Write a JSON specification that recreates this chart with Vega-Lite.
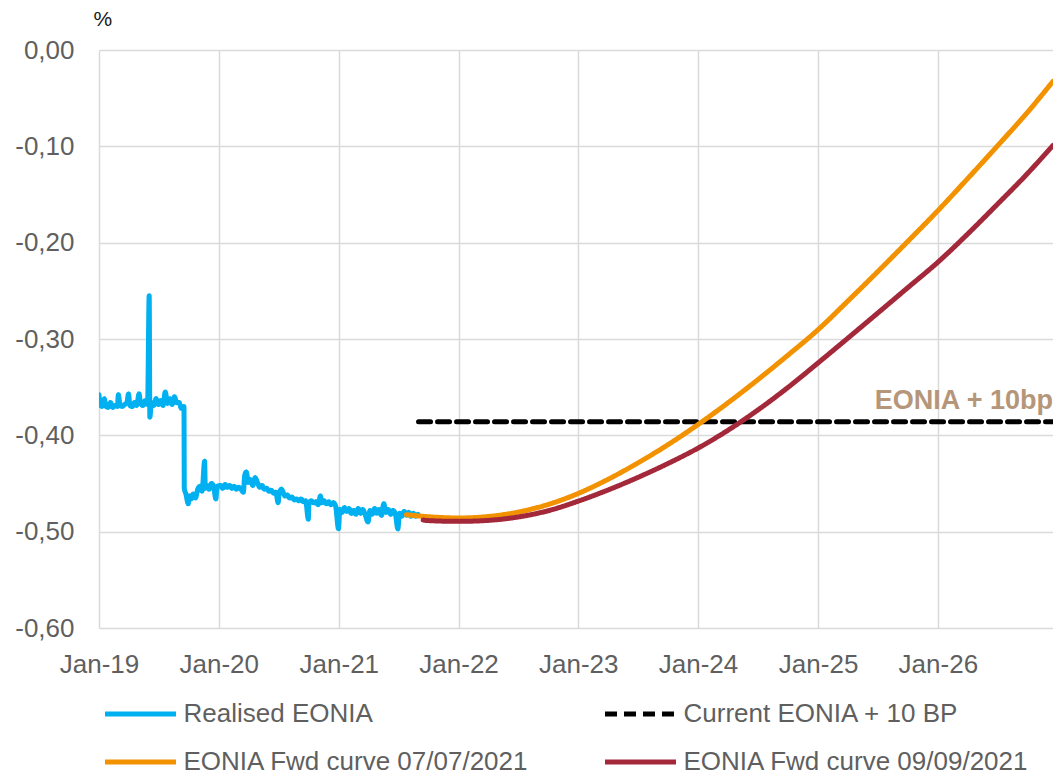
{
  "$schema": "https://vega.github.io/schema/vega-lite/v6.json",
  "width": 954,
  "height": 578,
  "autosize": {"type": "none"},
  "padding": {"left": 99, "top": 50, "right": 0, "bottom": 148},
  "background": "white",
  "config": {
    "view": {"stroke": null},
    "font": "Liberation Sans",
    "axis": {"gridColor": "#dadada", "gridWidth": 1.5, "domain": false, "ticks": false, "tickSize": 0, "labelFont": "Liberation Sans", "labelFontSize": 26, "labelColor": "#5f5f5f"}
  },
  "datasets": {
    "lines": [
      {"series": "Realised EONIA", "date": "2019-01-01", "value": -0.358},
      {"series": "Realised EONIA", "date": "2019-01-04", "value": -0.368},
      {"series": "Realised EONIA", "date": "2019-01-10", "value": -0.370},
      {"series": "Realised EONIA", "date": "2019-01-17", "value": -0.362},
      {"series": "Realised EONIA", "date": "2019-01-22", "value": -0.370},
      {"series": "Realised EONIA", "date": "2019-01-29", "value": -0.371},
      {"series": "Realised EONIA", "date": "2019-02-05", "value": -0.366},
      {"series": "Realised EONIA", "date": "2019-02-12", "value": -0.371},
      {"series": "Realised EONIA", "date": "2019-02-19", "value": -0.369},
      {"series": "Realised EONIA", "date": "2019-02-26", "value": -0.370},
      {"series": "Realised EONIA", "date": "2019-03-01", "value": -0.358},
      {"series": "Realised EONIA", "date": "2019-03-06", "value": -0.368},
      {"series": "Realised EONIA", "date": "2019-03-13", "value": -0.370},
      {"series": "Realised EONIA", "date": "2019-03-20", "value": -0.368},
      {"series": "Realised EONIA", "date": "2019-03-27", "value": -0.366},
      {"series": "Realised EONIA", "date": "2019-04-01", "value": -0.357},
      {"series": "Realised EONIA", "date": "2019-04-05", "value": -0.369},
      {"series": "Realised EONIA", "date": "2019-04-12", "value": -0.370},
      {"series": "Realised EONIA", "date": "2019-04-19", "value": -0.366},
      {"series": "Realised EONIA", "date": "2019-04-26", "value": -0.369},
      {"series": "Realised EONIA", "date": "2019-05-03", "value": -0.357},
      {"series": "Realised EONIA", "date": "2019-05-08", "value": -0.367},
      {"series": "Realised EONIA", "date": "2019-05-15", "value": -0.369},
      {"series": "Realised EONIA", "date": "2019-05-22", "value": -0.364},
      {"series": "Realised EONIA", "date": "2019-05-29", "value": -0.368},
      {"series": "Realised EONIA", "date": "2019-06-03", "value": -0.255},
      {"series": "Realised EONIA", "date": "2019-06-05", "value": -0.381},
      {"series": "Realised EONIA", "date": "2019-06-10", "value": -0.366},
      {"series": "Realised EONIA", "date": "2019-06-17", "value": -0.369},
      {"series": "Realised EONIA", "date": "2019-06-24", "value": -0.362},
      {"series": "Realised EONIA", "date": "2019-07-01", "value": -0.368},
      {"series": "Realised EONIA", "date": "2019-07-08", "value": -0.364},
      {"series": "Realised EONIA", "date": "2019-07-15", "value": -0.369},
      {"series": "Realised EONIA", "date": "2019-07-22", "value": -0.355},
      {"series": "Realised EONIA", "date": "2019-07-29", "value": -0.367},
      {"series": "Realised EONIA", "date": "2019-08-05", "value": -0.362},
      {"series": "Realised EONIA", "date": "2019-08-12", "value": -0.368},
      {"series": "Realised EONIA", "date": "2019-08-19", "value": -0.360},
      {"series": "Realised EONIA", "date": "2019-08-26", "value": -0.366},
      {"series": "Realised EONIA", "date": "2019-09-02", "value": -0.366},
      {"series": "Realised EONIA", "date": "2019-09-09", "value": -0.372},
      {"series": "Realised EONIA", "date": "2019-09-17", "value": -0.370},
      {"series": "Realised EONIA", "date": "2019-09-18", "value": -0.455},
      {"series": "Realised EONIA", "date": "2019-09-23", "value": -0.461},
      {"series": "Realised EONIA", "date": "2019-09-30", "value": -0.471},
      {"series": "Realised EONIA", "date": "2019-10-03", "value": -0.463},
      {"series": "Realised EONIA", "date": "2019-10-09", "value": -0.466},
      {"series": "Realised EONIA", "date": "2019-10-15", "value": -0.461},
      {"series": "Realised EONIA", "date": "2019-10-22", "value": -0.465},
      {"series": "Realised EONIA", "date": "2019-10-29", "value": -0.456},
      {"series": "Realised EONIA", "date": "2019-11-04", "value": -0.453},
      {"series": "Realised EONIA", "date": "2019-11-11", "value": -0.458},
      {"series": "Realised EONIA", "date": "2019-11-19", "value": -0.427},
      {"series": "Realised EONIA", "date": "2019-11-21", "value": -0.455},
      {"series": "Realised EONIA", "date": "2019-11-26", "value": -0.452},
      {"series": "Realised EONIA", "date": "2019-12-03", "value": -0.456},
      {"series": "Realised EONIA", "date": "2019-12-10", "value": -0.450},
      {"series": "Realised EONIA", "date": "2019-12-17", "value": -0.454},
      {"series": "Realised EONIA", "date": "2019-12-23", "value": -0.466},
      {"series": "Realised EONIA", "date": "2019-12-27", "value": -0.453},
      {"series": "Realised EONIA", "date": "2020-01-06", "value": -0.452},
      {"series": "Realised EONIA", "date": "2020-01-13", "value": -0.455},
      {"series": "Realised EONIA", "date": "2020-01-20", "value": -0.451},
      {"series": "Realised EONIA", "date": "2020-01-27", "value": -0.454},
      {"series": "Realised EONIA", "date": "2020-02-03", "value": -0.452},
      {"series": "Realised EONIA", "date": "2020-02-10", "value": -0.455},
      {"series": "Realised EONIA", "date": "2020-02-17", "value": -0.453},
      {"series": "Realised EONIA", "date": "2020-02-24", "value": -0.456},
      {"series": "Realised EONIA", "date": "2020-03-02", "value": -0.454},
      {"series": "Realised EONIA", "date": "2020-03-09", "value": -0.456},
      {"series": "Realised EONIA", "date": "2020-03-16", "value": -0.459},
      {"series": "Realised EONIA", "date": "2020-03-20", "value": -0.442},
      {"series": "Realised EONIA", "date": "2020-03-25", "value": -0.438},
      {"series": "Realised EONIA", "date": "2020-03-31", "value": -0.449},
      {"series": "Realised EONIA", "date": "2020-04-06", "value": -0.446},
      {"series": "Realised EONIA", "date": "2020-04-14", "value": -0.452},
      {"series": "Realised EONIA", "date": "2020-04-21", "value": -0.444},
      {"series": "Realised EONIA", "date": "2020-04-28", "value": -0.449},
      {"series": "Realised EONIA", "date": "2020-05-05", "value": -0.454},
      {"series": "Realised EONIA", "date": "2020-05-12", "value": -0.452},
      {"series": "Realised EONIA", "date": "2020-05-19", "value": -0.456},
      {"series": "Realised EONIA", "date": "2020-05-26", "value": -0.455},
      {"series": "Realised EONIA", "date": "2020-06-02", "value": -0.458},
      {"series": "Realised EONIA", "date": "2020-06-09", "value": -0.457},
      {"series": "Realised EONIA", "date": "2020-06-16", "value": -0.460},
      {"series": "Realised EONIA", "date": "2020-06-23", "value": -0.459},
      {"series": "Realised EONIA", "date": "2020-06-30", "value": -0.470},
      {"series": "Realised EONIA", "date": "2020-07-03", "value": -0.461},
      {"series": "Realised EONIA", "date": "2020-07-10", "value": -0.456},
      {"series": "Realised EONIA", "date": "2020-07-14", "value": -0.458},
      {"series": "Realised EONIA", "date": "2020-07-21", "value": -0.463},
      {"series": "Realised EONIA", "date": "2020-07-28", "value": -0.462},
      {"series": "Realised EONIA", "date": "2020-08-04", "value": -0.465},
      {"series": "Realised EONIA", "date": "2020-08-11", "value": -0.464},
      {"series": "Realised EONIA", "date": "2020-08-18", "value": -0.467},
      {"series": "Realised EONIA", "date": "2020-08-25", "value": -0.466},
      {"series": "Realised EONIA", "date": "2020-09-01", "value": -0.468},
      {"series": "Realised EONIA", "date": "2020-09-08", "value": -0.466},
      {"series": "Realised EONIA", "date": "2020-09-15", "value": -0.469},
      {"series": "Realised EONIA", "date": "2020-09-22", "value": -0.468},
      {"series": "Realised EONIA", "date": "2020-09-30", "value": -0.487},
      {"series": "Realised EONIA", "date": "2020-10-02", "value": -0.471},
      {"series": "Realised EONIA", "date": "2020-10-09", "value": -0.468},
      {"series": "Realised EONIA", "date": "2020-10-16", "value": -0.470},
      {"series": "Realised EONIA", "date": "2020-10-23", "value": -0.469},
      {"series": "Realised EONIA", "date": "2020-10-30", "value": -0.472},
      {"series": "Realised EONIA", "date": "2020-11-06", "value": -0.463},
      {"series": "Realised EONIA", "date": "2020-11-10", "value": -0.470},
      {"series": "Realised EONIA", "date": "2020-11-17", "value": -0.468},
      {"series": "Realised EONIA", "date": "2020-11-24", "value": -0.471},
      {"series": "Realised EONIA", "date": "2020-12-01", "value": -0.469},
      {"series": "Realised EONIA", "date": "2020-12-08", "value": -0.472},
      {"series": "Realised EONIA", "date": "2020-12-15", "value": -0.470},
      {"series": "Realised EONIA", "date": "2020-12-22", "value": -0.473},
      {"series": "Realised EONIA", "date": "2020-12-31", "value": -0.497},
      {"series": "Realised EONIA", "date": "2021-01-04", "value": -0.477},
      {"series": "Realised EONIA", "date": "2021-01-11", "value": -0.480},
      {"series": "Realised EONIA", "date": "2021-01-18", "value": -0.475},
      {"series": "Realised EONIA", "date": "2021-01-25", "value": -0.479},
      {"series": "Realised EONIA", "date": "2021-02-01", "value": -0.476},
      {"series": "Realised EONIA", "date": "2021-02-08", "value": -0.481},
      {"series": "Realised EONIA", "date": "2021-02-15", "value": -0.478},
      {"series": "Realised EONIA", "date": "2021-02-22", "value": -0.482},
      {"series": "Realised EONIA", "date": "2021-03-01", "value": -0.476},
      {"series": "Realised EONIA", "date": "2021-03-08", "value": -0.481},
      {"series": "Realised EONIA", "date": "2021-03-15", "value": -0.477},
      {"series": "Realised EONIA", "date": "2021-03-22", "value": -0.482},
      {"series": "Realised EONIA", "date": "2021-03-31", "value": -0.490},
      {"series": "Realised EONIA", "date": "2021-04-06", "value": -0.478},
      {"series": "Realised EONIA", "date": "2021-04-13", "value": -0.482},
      {"series": "Realised EONIA", "date": "2021-04-20", "value": -0.476},
      {"series": "Realised EONIA", "date": "2021-04-27", "value": -0.481},
      {"series": "Realised EONIA", "date": "2021-05-04", "value": -0.477},
      {"series": "Realised EONIA", "date": "2021-05-11", "value": -0.483},
      {"series": "Realised EONIA", "date": "2021-05-18", "value": -0.471},
      {"series": "Realised EONIA", "date": "2021-05-25", "value": -0.480},
      {"series": "Realised EONIA", "date": "2021-06-01", "value": -0.477},
      {"series": "Realised EONIA", "date": "2021-06-08", "value": -0.482},
      {"series": "Realised EONIA", "date": "2021-06-15", "value": -0.478},
      {"series": "Realised EONIA", "date": "2021-06-22", "value": -0.481},
      {"series": "Realised EONIA", "date": "2021-06-30", "value": -0.497},
      {"series": "Realised EONIA", "date": "2021-07-05", "value": -0.481},
      {"series": "Realised EONIA", "date": "2021-07-12", "value": -0.484},
      {"series": "Realised EONIA", "date": "2021-07-19", "value": -0.479},
      {"series": "Realised EONIA", "date": "2021-07-26", "value": -0.483},
      {"series": "Realised EONIA", "date": "2021-08-02", "value": -0.480},
      {"series": "Realised EONIA", "date": "2021-08-09", "value": -0.484},
      {"series": "Realised EONIA", "date": "2021-08-16", "value": -0.481},
      {"series": "Realised EONIA", "date": "2021-08-23", "value": -0.484},
      {"series": "Realised EONIA", "date": "2021-08-30", "value": -0.482},
      {"series": "Current EONIA + 10 BP", "date": "2021-09-01", "value": -0.386},
      {"series": "Current EONIA + 10 BP", "date": "2026-12-18", "value": -0.386},
      {"series": "EONIA Fwd curve 07/07/2021", "date": "2021-07-26", "value": -0.4824},
      {"series": "EONIA Fwd curve 07/07/2021", "date": "2021-10-01", "value": -0.4845},
      {"series": "EONIA Fwd curve 07/07/2021", "date": "2022-01-01", "value": -0.4858},
      {"series": "EONIA Fwd curve 07/07/2021", "date": "2022-04-01", "value": -0.4843},
      {"series": "EONIA Fwd curve 07/07/2021", "date": "2022-07-01", "value": -0.4798},
      {"series": "EONIA Fwd curve 07/07/2021", "date": "2022-10-01", "value": -0.4718},
      {"series": "EONIA Fwd curve 07/07/2021", "date": "2023-01-01", "value": -0.4603},
      {"series": "EONIA Fwd curve 07/07/2021", "date": "2023-04-01", "value": -0.4458},
      {"series": "EONIA Fwd curve 07/07/2021", "date": "2023-07-01", "value": -0.4288},
      {"series": "EONIA Fwd curve 07/07/2021", "date": "2023-10-01", "value": -0.4098},
      {"series": "EONIA Fwd curve 07/07/2021", "date": "2024-01-01", "value": -0.3888},
      {"series": "EONIA Fwd curve 07/07/2021", "date": "2024-04-01", "value": -0.3663},
      {"series": "EONIA Fwd curve 07/07/2021", "date": "2024-07-01", "value": -0.3423},
      {"series": "EONIA Fwd curve 07/07/2021", "date": "2024-10-01", "value": -0.3168},
      {"series": "EONIA Fwd curve 07/07/2021", "date": "2025-01-01", "value": -0.2903},
      {"series": "EONIA Fwd curve 07/07/2021", "date": "2025-04-01", "value": -0.2608},
      {"series": "EONIA Fwd curve 07/07/2021", "date": "2025-07-01", "value": -0.2303},
      {"series": "EONIA Fwd curve 07/07/2021", "date": "2025-10-01", "value": -0.1988},
      {"series": "EONIA Fwd curve 07/07/2021", "date": "2026-01-01", "value": -0.1668},
      {"series": "EONIA Fwd curve 07/07/2021", "date": "2026-04-01", "value": -0.1338},
      {"series": "EONIA Fwd curve 07/07/2021", "date": "2026-07-01", "value": -0.0998},
      {"series": "EONIA Fwd curve 07/07/2021", "date": "2026-10-01", "value": -0.0648},
      {"series": "EONIA Fwd curve 07/07/2021", "date": "2026-12-18", "value": -0.0325},
      {"series": "EONIA Fwd curve 09/09/2021", "date": "2021-09-15", "value": -0.4879},
      {"series": "EONIA Fwd curve 09/09/2021", "date": "2021-10-01", "value": -0.4885},
      {"series": "EONIA Fwd curve 09/09/2021", "date": "2022-01-01", "value": -0.4893},
      {"series": "EONIA Fwd curve 09/09/2021", "date": "2022-04-01", "value": -0.4883},
      {"series": "EONIA Fwd curve 09/09/2021", "date": "2022-07-01", "value": -0.4848},
      {"series": "EONIA Fwd curve 09/09/2021", "date": "2022-10-01", "value": -0.4783},
      {"series": "EONIA Fwd curve 09/09/2021", "date": "2023-01-01", "value": -0.4683},
      {"series": "EONIA Fwd curve 09/09/2021", "date": "2023-04-01", "value": -0.4568},
      {"series": "EONIA Fwd curve 09/09/2021", "date": "2023-07-01", "value": -0.4438},
      {"series": "EONIA Fwd curve 09/09/2021", "date": "2023-10-01", "value": -0.4293},
      {"series": "EONIA Fwd curve 09/09/2021", "date": "2024-01-01", "value": -0.4133},
      {"series": "EONIA Fwd curve 09/09/2021", "date": "2024-04-01", "value": -0.3948},
      {"series": "EONIA Fwd curve 09/09/2021", "date": "2024-07-01", "value": -0.3738},
      {"series": "EONIA Fwd curve 09/09/2021", "date": "2024-10-01", "value": -0.3503},
      {"series": "EONIA Fwd curve 09/09/2021", "date": "2025-01-01", "value": -0.3248},
      {"series": "EONIA Fwd curve 09/09/2021", "date": "2025-04-01", "value": -0.2993},
      {"series": "EONIA Fwd curve 09/09/2021", "date": "2025-07-01", "value": -0.2733},
      {"series": "EONIA Fwd curve 09/09/2021", "date": "2025-10-01", "value": -0.2468},
      {"series": "EONIA Fwd curve 09/09/2021", "date": "2026-01-01", "value": -0.2203},
      {"series": "EONIA Fwd curve 09/09/2021", "date": "2026-04-01", "value": -0.1913},
      {"series": "EONIA Fwd curve 09/09/2021", "date": "2026-07-01", "value": -0.1603},
      {"series": "EONIA Fwd curve 09/09/2021", "date": "2026-10-01", "value": -0.1283},
      {"series": "EONIA Fwd curve 09/09/2021", "date": "2026-12-18", "value": -0.0990}
    ],
    "notes": [
      {"date": "2026-12-18", "value": -0.364, "label": "EONIA + 10bp"}
    ]
  },
  "layer": [
    {
      "data": {"name": "lines", "format": {"parse": {"date": "utc:'%Y-%m-%d'"}}},
      "mark": {"type": "line", "strokeWidth": 5, "strokeCap": "round", "interpolate": "monotone", "clip": true},
      "encoding": {
        "x": {
          "field": "date", "type": "temporal",
          "scale": {"type": "utc", "domain": [{"year": 2019, "month": 1, "date": 1, "utc": true}, {"year": 2026, "month": 12, "date": 18, "utc": true}], "nice": false},
          "axis": {
            "title": null, "grid": true, "labelPadding": 23, "labelAlign": "center", "labelFlush": false,
            "labelExpr": "utcFormat(datum.value, '%b-%y')",
            "values": [
              {"year": 2019, "month": 1, "date": 1, "utc": true},
              {"year": 2020, "month": 1, "date": 1, "utc": true},
              {"year": 2021, "month": 1, "date": 1, "utc": true},
              {"year": 2022, "month": 1, "date": 1, "utc": true},
              {"year": 2023, "month": 1, "date": 1, "utc": true},
              {"year": 2024, "month": 1, "date": 1, "utc": true},
              {"year": 2025, "month": 1, "date": 1, "utc": true},
              {"year": 2026, "month": 1, "date": 1, "utc": true}
            ]
          }
        },
        "y": {
          "field": "value", "type": "quantitative",
          "scale": {"domain": [-0.6, 0], "nice": false, "zero": false},
          "axis": {
            "title": "%", "titleAngle": 0, "titleAlign": "left", "titleBaseline": "alphabetic", "titleX": -6, "titleY": -25,
            "titleFontSize": 21, "titleFontWeight": "normal", "titleColor": "#1a1a1a", "titleFont": "Liberation Sans",
            "values": [-0.6, -0.5, -0.4, -0.3, -0.2, -0.1, 0],
            "labelExpr": "(datum.value < -0.0001 ? '-' : '') + replace(format(abs(datum.value), '.2f'), '.', ',')",
            "labelPadding": 25, "grid": true
          }
        },
        "color": {
          "field": "series", "type": "nominal",
          "scale": {
            "domain": ["Realised EONIA", "Current EONIA + 10 BP", "EONIA Fwd curve 07/07/2021", "EONIA Fwd curve 09/09/2021"],
            "range": ["#00b0f0", "#000000", "#f39200", "#a3283a"]
          },
          "legend": {
            "title": null, "orient": "none", "legendX": 3.5, "legendY": 651, "direction": "horizontal", "columns": 2,
            "columnPadding": 73, "rowPadding": 22, "clipHeight": 26,
            "symbolType": "stroke", "symbolSize": 5041, "symbolStrokeWidth": 5, "labelOffset": 5,
            "labelFont": "Liberation Sans", "labelFontSize": 26, "labelColor": "#5f5f5f", "labelLimit": 0
          }
        },
        "strokeDash": {
          "field": "series", "type": "nominal",
          "scale": {
            "domain": ["Realised EONIA", "Current EONIA + 10 BP", "EONIA Fwd curve 07/07/2021", "EONIA Fwd curve 09/09/2021"],
            "range": [[1, 0], [12, 7], [1, 0], [1, 0]]
          },
          "legend": {
            "title": null, "orient": "none", "legendX": 3.5, "legendY": 651, "direction": "horizontal", "columns": 2,
            "columnPadding": 73, "rowPadding": 22, "clipHeight": 26,
            "symbolType": "stroke", "symbolSize": 5041, "symbolStrokeWidth": 5, "labelOffset": 5,
            "labelFont": "Liberation Sans", "labelFontSize": 26, "labelColor": "#5f5f5f", "labelLimit": 0
          }
        }
      }
    },
    {
      "data": {"name": "notes", "format": {"parse": {"date": "utc:'%Y-%m-%d'"}}},
      "mark": {"type": "text", "align": "right", "baseline": "middle", "dx": 0, "font": "Liberation Sans", "fontWeight": "bold", "fontSize": 27, "color": "#b5967a"},
      "encoding": {
        "x": {"field": "date", "type": "temporal"},
        "y": {"field": "value", "type": "quantitative"},
        "text": {"field": "label", "type": "nominal"}
      }
    }
  ]
}
